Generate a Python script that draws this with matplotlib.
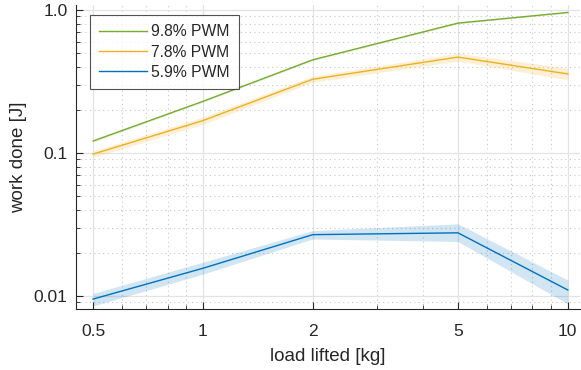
import matplotlib
matplotlib.use("Agg")
import matplotlib.pyplot as plt
from matplotlib.ticker import FixedLocator, FixedFormatter, NullFormatter

plt.rcParams["font.family"] = ["Liberation Sans", "DejaVu Sans"]

# data
load_kg = [0.5, 1, 2, 5, 10]

pwm98 = [0.121, 0.229, 0.447, 0.807, 0.958]
pwm98_lo = [0.119, 0.226, 0.441, 0.798, 0.948]
pwm98_hi = [0.123, 0.232, 0.453, 0.816, 0.968]

pwm78 = [0.098, 0.168, 0.327, 0.467, 0.356]
pwm78_lo = [0.093, 0.158, 0.312, 0.438, 0.324]
pwm78_hi = [0.103, 0.178, 0.343, 0.497, 0.391]

pwm59 = [0.0095, 0.0156, 0.0268, 0.0276, 0.0110]
pwm59_lo = [0.0085, 0.0142, 0.0250, 0.0240, 0.0088]
pwm59_hi = [0.0104, 0.0172, 0.0286, 0.0319, 0.0129]

labels = ["9.8% PWM", "7.8% PWM", "5.9% PWM"]
x_ticks = [0.5, 1, 2, 5, 10]
x_ticklabels = ["0.5", "1", "2", "5", "10"]
y_ticks = [0.01, 0.1, 1.0]
y_ticklabels = ["0.01", "0.1", "1.0"]

GREEN = "#77AC30"
ORANGE = "#EDB120"
BLUE = "#0072BD"
TXT = "#262626"

fig = plt.figure(figsize=(5.81, 3.70), dpi=100)
ax = fig.add_axes([76 / 581, 1 - 309 / 370, 504 / 581, 304 / 370])

series = [
    (pwm98, pwm98_lo, pwm98_hi, GREEN),
    (pwm78, pwm78_lo, pwm78_hi, ORANGE),
    (pwm59, pwm59_lo, pwm59_hi, BLUE),
]
for (y, lo, hi, c), lab in zip(series, labels):
    ax.fill_between(load_kg, lo, hi, color=c, alpha=0.18, linewidth=0)
    ax.plot(load_kg, y, color=c, linewidth=1.0, label=lab)

ax.set_xscale("log")
ax.set_yscale("log")
ax.set_xlim(0.449, 10.8)
ax.set_ylim(0.0081, 1.08)

ax.xaxis.set_major_locator(FixedLocator(x_ticks))
ax.xaxis.set_major_formatter(FixedFormatter(x_ticklabels))
x_minor = [0.6, 0.7, 0.8, 0.9, 3, 4, 6, 7, 8, 9]
ax.xaxis.set_minor_locator(FixedLocator(x_minor))
ax.xaxis.set_minor_formatter(NullFormatter())

ax.yaxis.set_major_locator(FixedLocator(y_ticks))
ax.yaxis.set_major_formatter(FixedFormatter(y_ticklabels))
y_minor = [m * d for d in (0.001, 0.01, 0.1) for m in range(2, 10)]
ax.yaxis.set_minor_locator(FixedLocator(y_minor))
ax.yaxis.set_minor_formatter(NullFormatter())

ax.grid(True, which="major", color="#e3e3e3", linewidth=0.9, linestyle="-")
ax.grid(True, which="minor", color="#c8c8c8", linewidth=0.8, linestyle=(0, (1, 3)))
ax.set_axisbelow(True)

for side in ("top", "right"):
    ax.spines[side].set_visible(False)
for side in ("left", "bottom"):
    ax.spines[side].set_color(TXT)
    ax.spines[side].set_linewidth(0.8)

ax.tick_params(which="both", direction="in", colors=TXT, labelsize=12.5)
ax.tick_params(which="major", length=5, width=0.8)
ax.tick_params(which="minor", length=3, width=0.6)
ax.tick_params(axis="x", pad=11)
ax.tick_params(axis="y", pad=6)

ax.set_xlabel("load lifted [kg]", fontsize=13.5, color=TXT, labelpad=6)
ax.set_ylabel("work done [J]", fontsize=13.5, color=TXT, labelpad=5)

leg = ax.legend(loc="upper left", bbox_to_anchor=(14 / 504, 1 - 10 / 304),
                borderaxespad=0, fontsize=11.3, frameon=True, fancybox=False,
                handlelength=3.0, borderpad=0.6, labelspacing=0.33,
                handletextpad=0.3)
leg.get_frame().set_edgecolor(TXT)
leg.get_frame().set_linewidth(0.8)
for t in leg.get_texts():
    t.set_color(TXT)

fig.savefig("out.png", dpi=100)
